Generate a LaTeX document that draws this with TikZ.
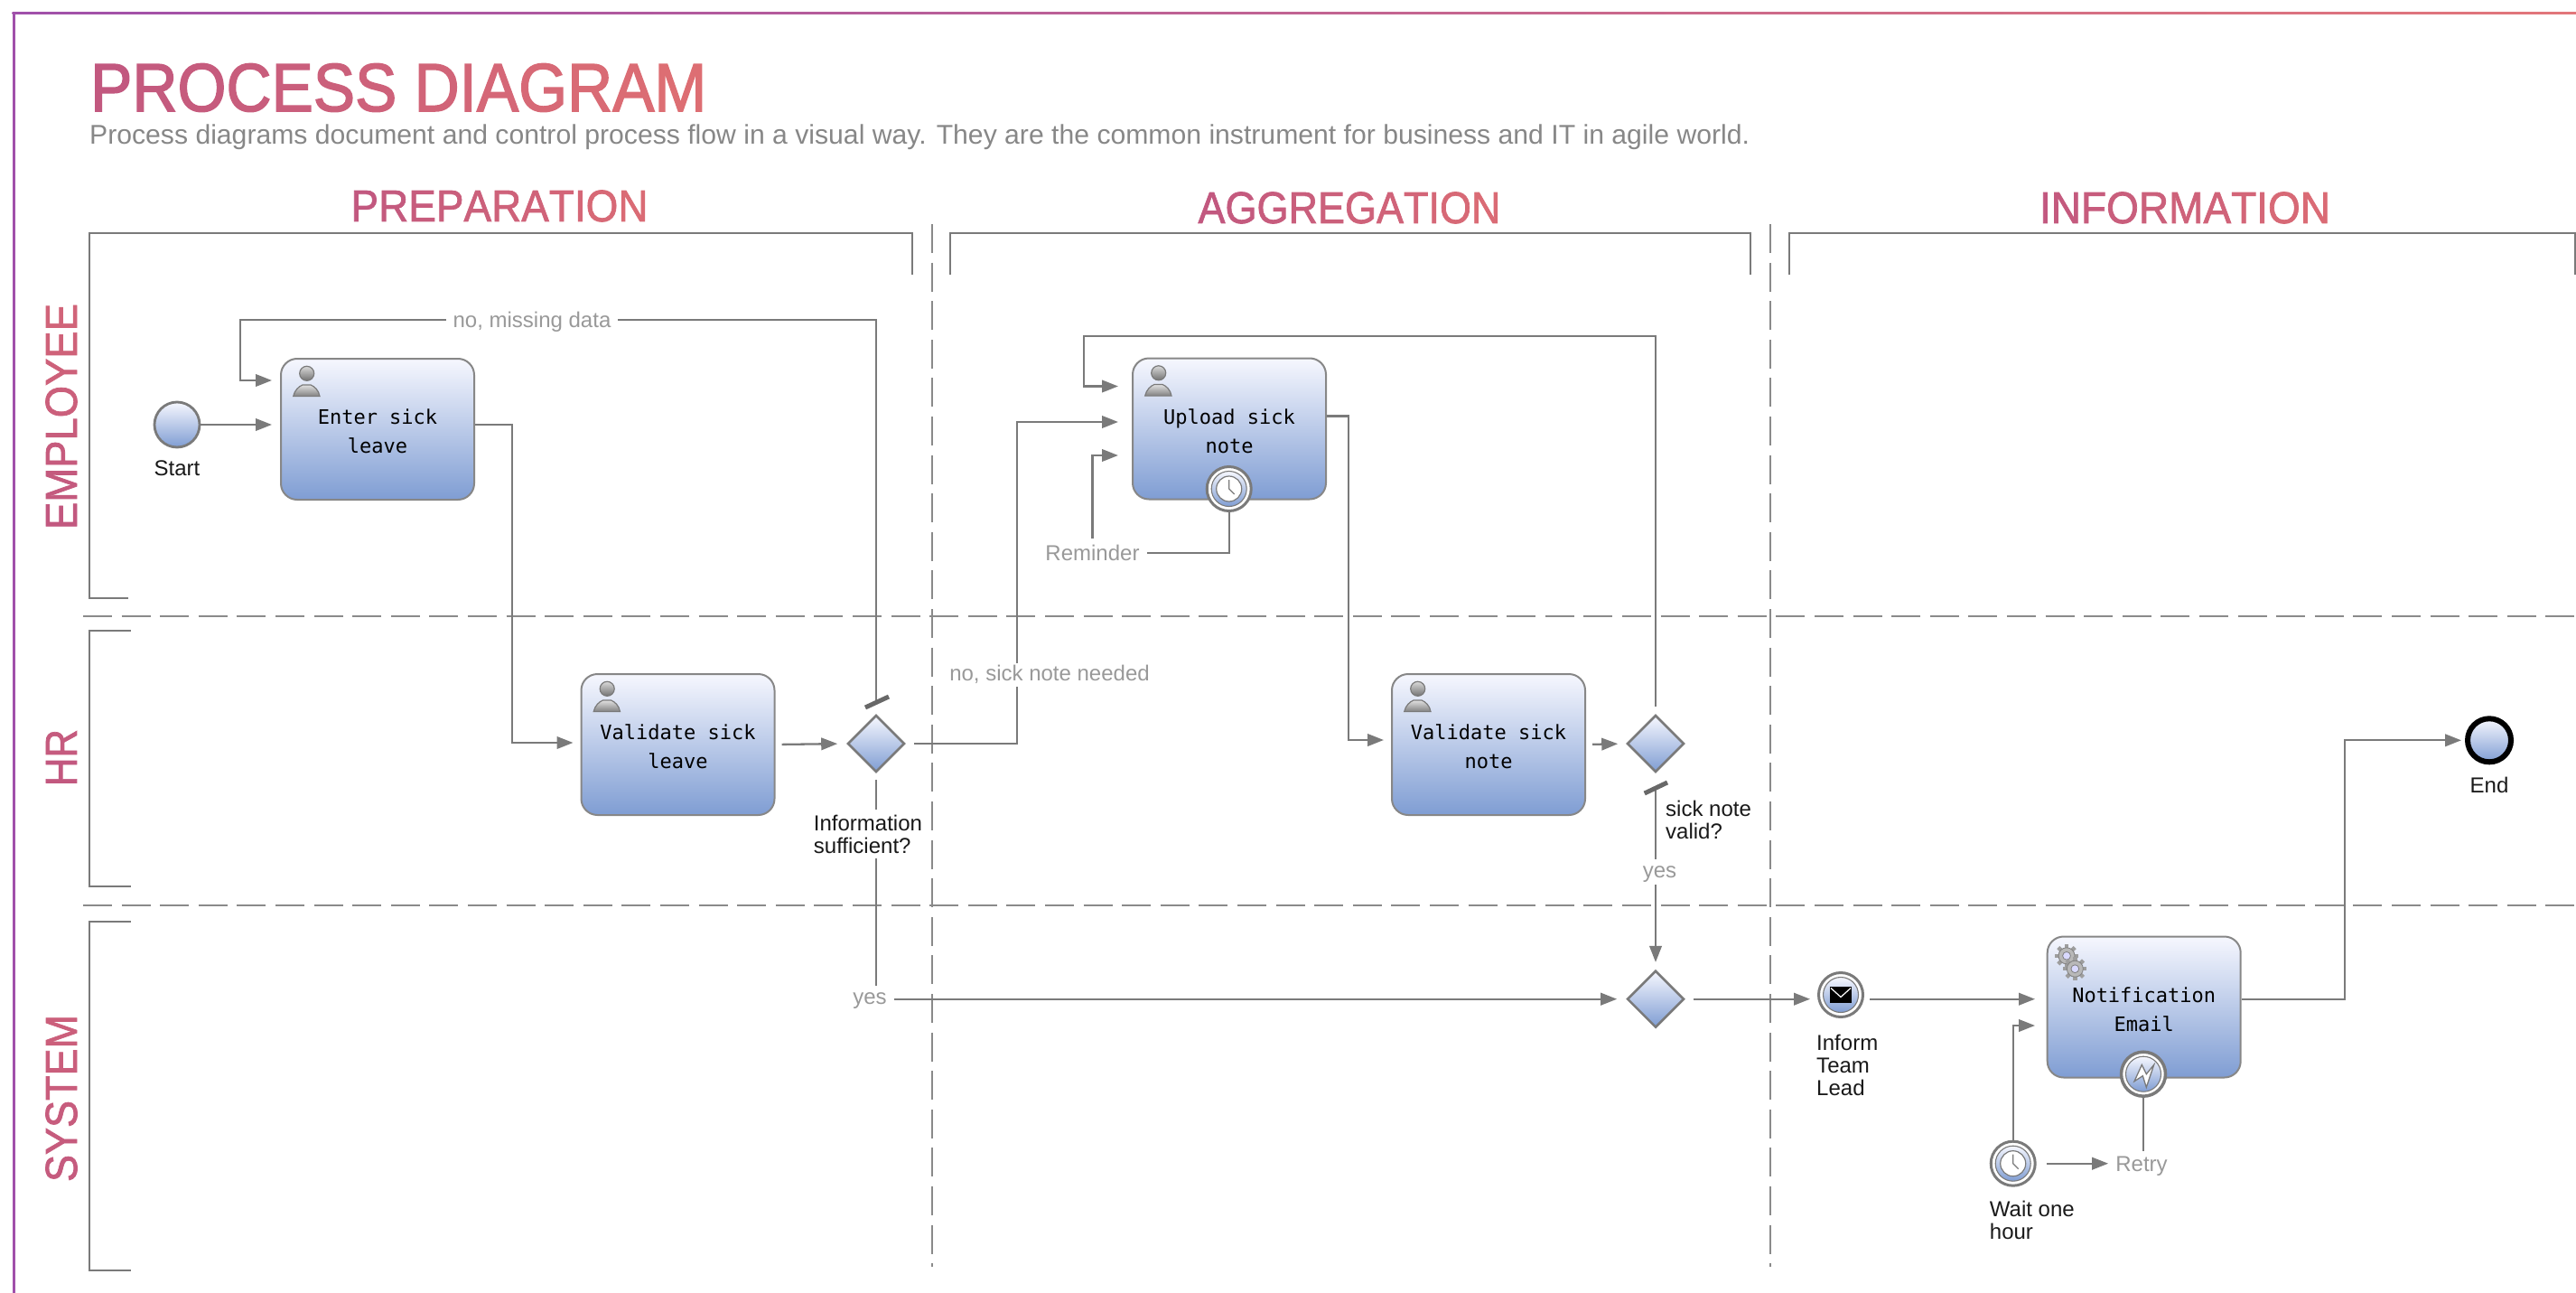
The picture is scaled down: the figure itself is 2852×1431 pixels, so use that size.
\documentclass[tikz,border=0pt]{standalone}
\usepackage{fontspec}
\usepackage{graphicx}
\setmainfont{Liberation Sans}
\newfontfamily\taskfont{DejaVu Sans Mono}
\newfontfamily\headfont[FakeBold=1.6]{Liberation Sans}
\newfontfamily\titlefont[FakeBold=2]{Liberation Sans}
\usetikzlibrary{arrows.meta,shapes.geometric,backgrounds,calc}
\definecolor{conn}{HTML}{7A7A7A}
\definecolor{lbl}{HTML}{999999}
\definecolor{gA}{HTML}{C2587F}
\definecolor{gB}{HTML}{E07072}
\definecolor{blT}{HTML}{F6F7FE}
\definecolor{blB}{HTML}{7F9DD3}
\definecolor{frameA}{HTML}{A050AA}
\definecolor{frameB}{HTML}{C65886}
\definecolor{frameC}{HTML}{E2767A}
\newcount\gradI
\newcount\gradN
\newcount\gradFrom
\newcount\gradTo
\def\gradLoop#1{\ifx#1\relax\else
  {\color{gB!\the\numexpr\gradFrom+(\gradTo-\gradFrom)*\gradI/\gradN\relax!gA}#1}%
  \advance\gradI by 1
  \expandafter\gradLoop\fi}
\newcommand{\gradtxt}[4]{\gradFrom=#1 \gradTo=#2 \gradN=#3 \gradI=0 \gradLoop#4\relax}
\newcommand{\fitw}[2]{\resizebox{#1pt}{\height}{#2}}
\newcommand{\tasktop}{\rule{0pt}{22pt}}
\tikzset{
  conline/.style={draw=conn,line width=2.3pt},
  arr/.style={conline,-{Triangle[length=18pt,width=13.5pt]}},
  bracket/.style={draw=conn,line width=2pt},
  swim/.style={draw=conn!88,line width=2pt,dash pattern=on 32pt off 10.6pt},
  task/.style={rectangle,rounded corners=18pt,minimum width=214pt,minimum height=156pt,inner sep=0pt,
    draw=conn!90,line width=2pt,top color=blT,bottom color=blB,align=center,
    font=\taskfont\fontsize{22}{32}\selectfont,text=black},
  gate/.style={diamond,minimum width=63pt,minimum height=63pt,inner sep=0pt,aspect=1,
    draw=conn,line width=2.6pt,top color=blT,bottom color=blB},
  plain/.style={circle,minimum size=50pt,inner sep=0pt,draw=conn,line width=2.8pt,top color=blT,bottom color=blB},
  finish/.style={circle,minimum size=48pt,inner sep=0pt,draw=black,line width=6pt,top color=blT,bottom color=blB},
  catch/.style={circle,minimum size=49pt,inner sep=0pt,draw=conn,line width=3pt,fill=white},
  flowlabel/.style={font=\fontsize{24}{25}\selectfont,text=lbl,fill=white,inner xsep=8pt,inner ysep=3pt,anchor=base,text height=17pt},
  caption/.style={font=\fontsize{24}{25}\selectfont,text=black!90,inner sep=0pt,align=left},
  heading/.style={font=\headfont\fontsize{49.4}{50}\selectfont,inner sep=0pt,anchor=base},
  lane/.style={font=\headfont\fontsize{49.4}{50}\selectfont,inner sep=0pt,rotate=90},
  person/.pic={
    \draw[draw=conn,line width=1.2pt,top color=black!12,bottom color=black!50]
      (14.7,42.6) .. controls (16,36) and (21,31.5) .. (25,30) -- (34,30) .. controls (38,31.5) and (43,36) .. (44,42.6) -- cycle;
    \draw[draw=conn,line width=1.2pt,top color=black!15,bottom color=black!55] (29.7,17.3) circle[radius=8];
  },
  cog/.pic={
    \foreach \a in {0,45,...,315}{\draw[black!38,line width=4.4pt] (\a:6) -- (\a:13);}
    \draw[fill=black!28,draw=black!50,line width=.8pt] (0,0) circle[radius=9];
    \draw[fill=white!85!blue,draw=black!50,line width=.8pt] (0,0) circle[radius=4.4];
  },
  ringfill/.pic={\draw[draw=conn,line width=1.1pt,top color=blT,bottom color=blB] (0,0) circle[radius=19.5];},
  clockface/.pic={
    \draw[draw=conn,line width=1.2pt,fill=white] (0,0) circle[radius=14];
    \draw[draw=conn,line width=1.3pt] (0,-10) -- (0,0) -- (6,6);
  },
  mailicon/.pic={
    \fill[black] (-12,-9) rectangle (12,9);
    \draw[white,line width=1.2pt] (-11,-7.5) -- (0,2.5) -- (11,-7.5);
  },
  bolticon/.pic={
    \draw[draw=conn,line width=1.3pt,fill=white,line join=miter]
      (-10,8) -- (-1.7,-10.3) -- (3.3,0) -- (11.7,-10.3) -- (3.3,14.7) -- (-0.7,2) -- cycle;
  }
}
\begin{document}
\begin{tikzpicture}[x=1pt,y=-1pt]
\useasboundingbox (0,0) rectangle (2852,1431);
% frame
\fill[left color=frameA,middle color=frameB,right color=frameC] (13.6,13.2) rectangle (2852,16);
\fill[frameA] (13.6,13.2) rectangle (17,1431);
% titles
\node[inner sep=0pt,anchor=base west,font=\titlefont\fontsize{75.4}{76}\selectfont] (title) at (100,123)
  {\fitw{682}{\gradtxt{0}{90}{14}{PROCESS~DIAGRAM}}};
\node[inner sep=0pt,anchor=base west,font=\fontsize{30}{32}\selectfont,text=black!47] (subtitle) at (99,159.5)
  {\fitw{1838}{Process diagrams document and control process flow in a visual way. They are the common instrument for business and IT in agile world.}};
\node[heading] (colA) at (553,245) {\fitw{329}{\gradtxt{0}{80}{10}{PREPARATION}}};
\node[heading] (colB) at (1494,247) {\fitw{335}{\gradtxt{0}{80}{10}{AGGREGATION}}};
\node[heading] (colC) at (2419,247) {\fitw{322}{\gradtxt{0}{80}{10}{INFORMATION}}};
\node[lane] (laneA) at (68,461) {\fitw{250}{\gradtxt{0}{50}{7}{EMPLOYEE}}};
\node[lane] (laneB) at (68,838.5) {\fitw{63}{\gradtxt{0}{10}{1}{HR}}};
\node[lane] (laneC) at (68,1215.5) {\fitw{185}{\gradtxt{10}{30}{5}{SYSTEM}}};
% tasks and gateways
\node[plain] (start) at (196,470) {};
\node[task] (enter) at (418,475) {\tasktop Enter sick\\leave};
\node[task] (valleave) at (750.5,824) {\tasktop Validate sick\\leave};
\node[gate] (gwA) at (970,823) {};
\node[task] (upload) at (1361,474.5) {\tasktop Upload sick\\note};
\node[task] (valnote) at (1648,824) {\tasktop Validate sick\\note};
\node[gate] (gwB) at (1833,823) {};
\node[gate] (gwC) at (1833,1105.7) {};
\node[catch] (mail) at (2038,1101) {};
\node[task] (notify) at (2373.7,1114.5) {\tasktop Notification\\Email};
\node[catch] (reminderEvt) at (1360.7,541) {};
\node[catch,line width=3.5pt] (errorEvt) at (2373,1188.7) {};
\node[catch] (wait) at (2228.7,1287.7) {};
\node[finish] (stop) at (2756,819.3) {};
% icons
\pic at (enter.north west) {person};
\pic at (valleave.north west) {person};
\pic at (upload.north west) {person};
\pic at (valnote.north west) {person};
\begin{scope}[shift={(notify.north west)}]
  \pic at (22.3,22.3) {cog};
  \pic at (31.6,36.7) {cog};
\end{scope}
\pic at (reminderEvt) {ringfill};
\pic at (reminderEvt) {clockface};
\pic at (wait) {ringfill};
\pic at (wait) {clockface};
\pic at (mail) {ringfill};
\pic at (mail) {mailicon};
\pic at (errorEvt) {ringfill};
\pic at (errorEvt) {bolticon};
% captions
\node[caption,anchor=base] (startCap) at (196,526) {Start};
\node[caption,anchor=base] (endCap) at (2756,877) {End};
\node[caption,anchor=north west,fill=white,inner ysep=6pt] (infoCap) at (900.7,895.5) {Information\\sufficient?};
\node[caption,anchor=north west] (validCap) at (1844,885.5) {sick note\\valid?};
\node[caption,anchor=north west] (leadCap) at (2011,1144.5) {Inform\\Team\\Lead};
\node[caption,anchor=north west] (waitCap) at (2202.7,1328.5) {Wait one\\hour};
% flow labels
\node[flowlabel] (noData) at (589,362.7) {no, missing data};
\node[flowlabel] (noNote) at (1162,753.7) {no, sick note needed};
\node[flowlabel] (reminder) at (1209.5,620) {Reminder};
\node[flowlabel] (yesA) at (963,1111) {yes};
\node[flowlabel] (yesB) at (1837.5,971) {yes};
\node[flowlabel] (retry) at (2371,1296.7) {Retry};
% bends
\coordinate (bendA) at (566.7,640);
\coordinate (bendB) at (1493,640);
\coordinate (bendC) at (1125.7,640);
\coordinate (bendD) at (2595.7,960);
\coordinate (loopA) at (265.7,354);
\coordinate (loopB) at (1200,371.7);
\begin{scope}[on background layer]
  % brackets
  \draw[bracket] (142,662.4) -- (99,662.4) -- (99,258) -- (1009.5,258) -- (1009.5,304);
  \draw[bracket] (144.7,980.6) -- (99,980.6) -- (99,697.6) -- (144.7,697.6);
  \draw[bracket] (144.7,1405.8) -- (99,1405.8) -- (99,1020) -- (144.7,1020);
  \draw[bracket] (1052,304) -- (1052,258) -- (1937.6,258) -- (1937.6,304);
  \draw[bracket] (1981,304) -- (1981,258) -- (2851,258) -- (2851,304);
  % swimlane separators
  \draw[swim] (92,681.5) -- (2852,681.5);
  \draw[swim] (92,1001.5) -- (2852,1001.5);
  \draw[swim] (1032,248) -- (1032,1402);
  \draw[swim] (1960,248) -- (1960,1402);
  % connectors
  \draw[arr,shorten >=9pt] (start) -- (start -| enter.west);
  \draw[arr,shorten <=14pt,shorten >=9pt] (gwA.north) |- (loopA) |- ([yshift=54pt]enter.west);
  \draw[arr,shorten >=8pt] ([yshift=5pt]enter.east) -| (bendA) |- ([yshift=2pt]valleave.west);
  \draw[arr,shorten <=7pt,shorten >=10pt] (valleave.east) -- (gwA.west);
  \draw[arr,shorten <=9pt,shorten >=15pt] (gwA.east) -| (bendC) |- ([yshift=7.5pt]upload.west);
  \draw[conline,shorten <=7pt] (gwA.south) -- (gwA.south |- yesA.north);
  \draw[arr,shorten >=10pt] (yesA.east |- gwC) -- (gwC.west);
  \draw[arr,shorten <=8pt,shorten >=15pt] (gwB.north) |- (loopB) |- ([yshift=47pt]upload.west);
  \draw[arr,shorten <=4pt,shorten >=15pt] (reminder.north) |- ([yshift=-29.5pt]upload.west);
  \draw[conline] (reminderEvt.south) |- (reminder.east |- 0,611.7);
  \draw[arr,shorten >=8pt] ([yshift=14pt]upload.east) -| (bendB) |- ([yshift=5pt]valnote.west);
  \draw[arr,shorten <=7pt,shorten >=9pt] (valnote.east) -- (gwB.west);
  \draw[arr,shorten <=18pt,shorten >=8pt] (gwB.south) -- (gwC.north);
  \draw[arr,shorten <=9pt,shorten >=8pt] (gwC.east) -- (gwC.east -| mail.west);
  \draw[arr,shorten <=6pt,shorten >=12.7pt] (mail.east |- gwC) -- (gwC -| notify.west);
  \draw[arr,shorten >=12.7pt] (wait.north) |- ([yshift=-20.5pt]notify.west);
  \draw[arr,shorten <=11pt] (wait.east) -- (retry.west |- wait);
  \draw[conline,shorten >=3pt] (errorEvt.south) -- (errorEvt.south |- retry.north);
  \draw[arr,shorten >=4pt] ([yshift=8.8pt]notify.east) -| (bendD) |- (stop.west);
\end{scope}
% gateway outcome marks
\draw[draw=conn!85!black,line width=5pt] (958,783) -- (984,771);
\draw[draw=conn!85!black,line width=5pt] (1820.7,878) -- (1846,866);
\end{tikzpicture}
\end{document}
